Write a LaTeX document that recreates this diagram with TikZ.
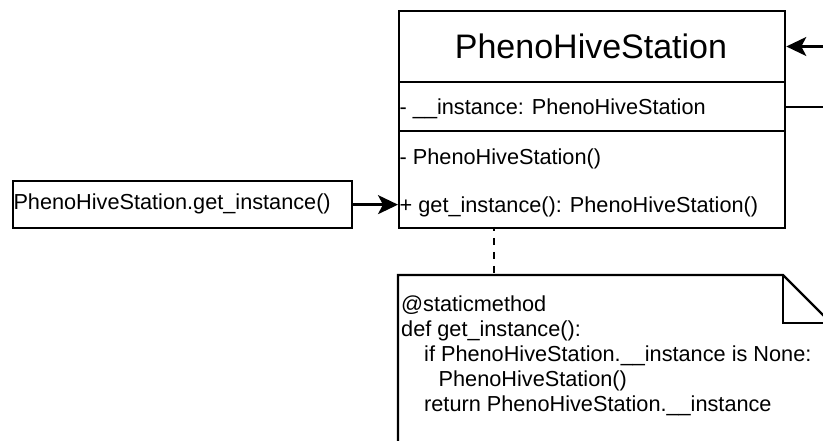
\documentclass[tikz,border=0pt]{standalone}
\usepackage{fontspec}
\setmainfont{Liberation Sans}
\usetikzlibrary{arrows.meta}
\begin{document}
\begin{tikzpicture}[x=1pt,y=-1pt,
  line/.style={line width=2.3pt, line join=miter, draw=black},
  boxed/.style={line, inner sep=0pt, anchor=north west},
  txt/.style={inner sep=0pt, anchor=base west, font=\fontsize{21.7}{25}\selectfont},
  head/.style={inner sep=0pt, anchor=base, font=\fontsize{34}{40}\selectfont},
  arr/.style={line, -{Stealth[length=20pt,width=19pt,inset=5pt]}},
  dashline/.style={line, dash pattern=on 7pt off 7pt, dash phase=3pt}
]
\useasboundingbox (0,0) rectangle (823,441);
\clip (0,0) rectangle (823,441);
\fill[white] (0,0) rectangle (823,441);

% class box
\node[boxed, minimum width=386pt, minimum height=217pt] (cls) at (398,10) {};
\draw[line] (398,82) -- (784,82);
\draw[line] (398,131) -- (784,131);
\node[head] (title) at (591,58.3) {PhenoHiveStation};
\node[txt] (attr) at (399.5,115) {- \_\_instance: PhenoHiveStation};
\node[txt] (ctor) at (399.5,165) {- PhenoHiveStation()};
\node[txt] (getm) at (399.5,212.5) {+ get\_instance(): PhenoHiveStation()};

% caller box
\node[boxed, minimum width=339pt, minimum height=47pt] (caller) at (11.5,180) {};
\node[txt] (callertxt) at (13.3,210) {PhenoHiveStation.get\_instance()};

% note
\draw[line] (398,470) -- (398,275) -- (783,275) -- (831,323) -- (831,470);
\draw[line] (783,275) -- (783,323) -- (831,323);
\coordinate (notetop) at (494,275);
\coordinate (dtop) at (494,227);
\node[txt] (n1) at (401,311) {@staticmethod};
\node[txt] (n2) at (401,336) {def get\_instance():};
\node[txt] (n3) at (424,361) {if PhenoHiveStation.\_\_instance is None:};
\node[txt] (n4) at (438.5,386) {PhenoHiveStation()};
\node[txt] (n5) at (424,411) {return PhenoHiveStation.\_\_instance};

% connectors
\draw[arr] (caller.east) -- (caller.east -| cls.west);
\coordinate (ext1) at (830,46.5);
\coordinate (ext2) at (830,107);
\draw[arr] (ext1) -- (ext1 -| cls.east);
\draw[line] (ext2 -| cls.east) -- (ext2);
\draw[dashline] (dtop) -- (notetop);
\end{tikzpicture}
\end{document}
